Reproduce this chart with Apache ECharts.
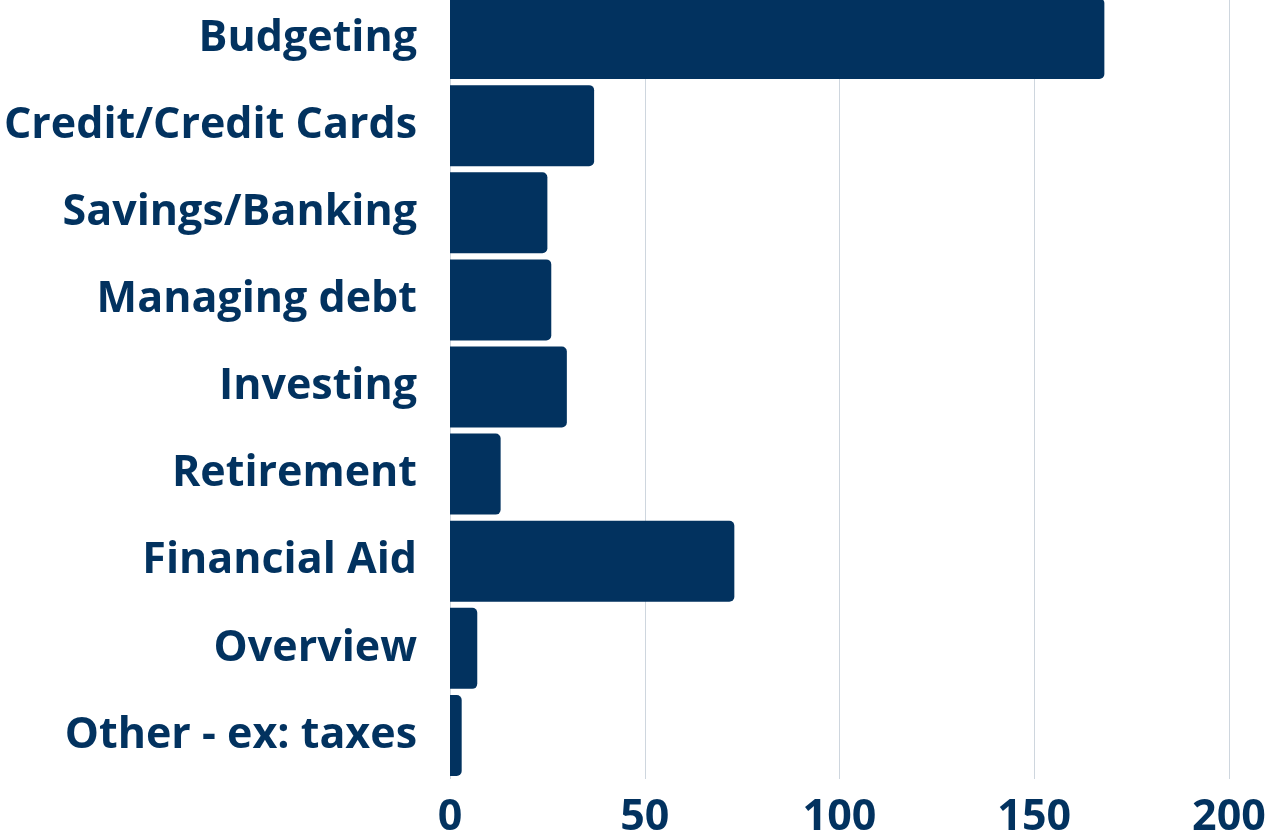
<!DOCTYPE html>
<html>
<head>
<meta charset="utf-8">
<script src="https://cdn.jsdelivr.net/npm/echarts@6/dist/echarts.min.js"></script>
<style>
  html, body { margin: 0; padding: 0; background: #ffffff; }
  #chart { width: 1268px; height: 832px; }
</style>
</head>
<body>
<div id="chart"></div>
<script>
// Topics, listed top to bottom
const categories = [
  'Budgeting',
  'Credit/Credit Cards',
  'Savings/Banking',
  'Managing debt',
  'Investing',
  'Retirement',
  'Financial Aid',
  'Overview',
  'Other - ex: taxes'
];
// Number of responses per topic
const counts = [168, 37, 25, 26, 30, 13, 73, 7, 3];
// Value axis ticks
const xTicks = [0, 50, 100, 150, 200];

const navy = '#02325f';
const font = '"Open Sans", "Noto Sans", sans-serif';

const chart = echarts.init(document.getElementById('chart'), null, { renderer: 'canvas' });
chart.setOption({
  animation: false,
  backgroundColor: '#ffffff',
  grid: {
    left: 450, right: 39, top: -5, bottom: 53,
    containLabel: false, outerBoundsMode: 'none'
  },
  xAxis: {
    type: 'value',
    min: xTicks[0],
    max: xTicks[xTicks.length - 1],
    interval: xTicks[1] - xTicks[0],
    axisLine: { show: false },
    axisTick: { show: false },
    splitLine: { show: true, lineStyle: { color: '#ced6de', width: 1 } },
    axisLabel: {
      color: navy, fontFamily: font, fontWeight: 'bold', fontSize: 43, margin: 17
    }
  },
  yAxis: {
    type: 'category',
    data: categories,
    inverse: true,
    axisLine: { show: false },
    axisTick: { show: false },
    axisLabel: {
      color: navy, fontFamily: font, fontWeight: 'bold', fontSize: 43, margin: 33
    }
  },
  series: [{
    type: 'bar',
    data: counts,
    barCategoryGap: '7%',
    itemStyle: { color: navy, borderRadius: [0, 5, 5, 0] }
  }]
});
</script>
</body>
</html>
